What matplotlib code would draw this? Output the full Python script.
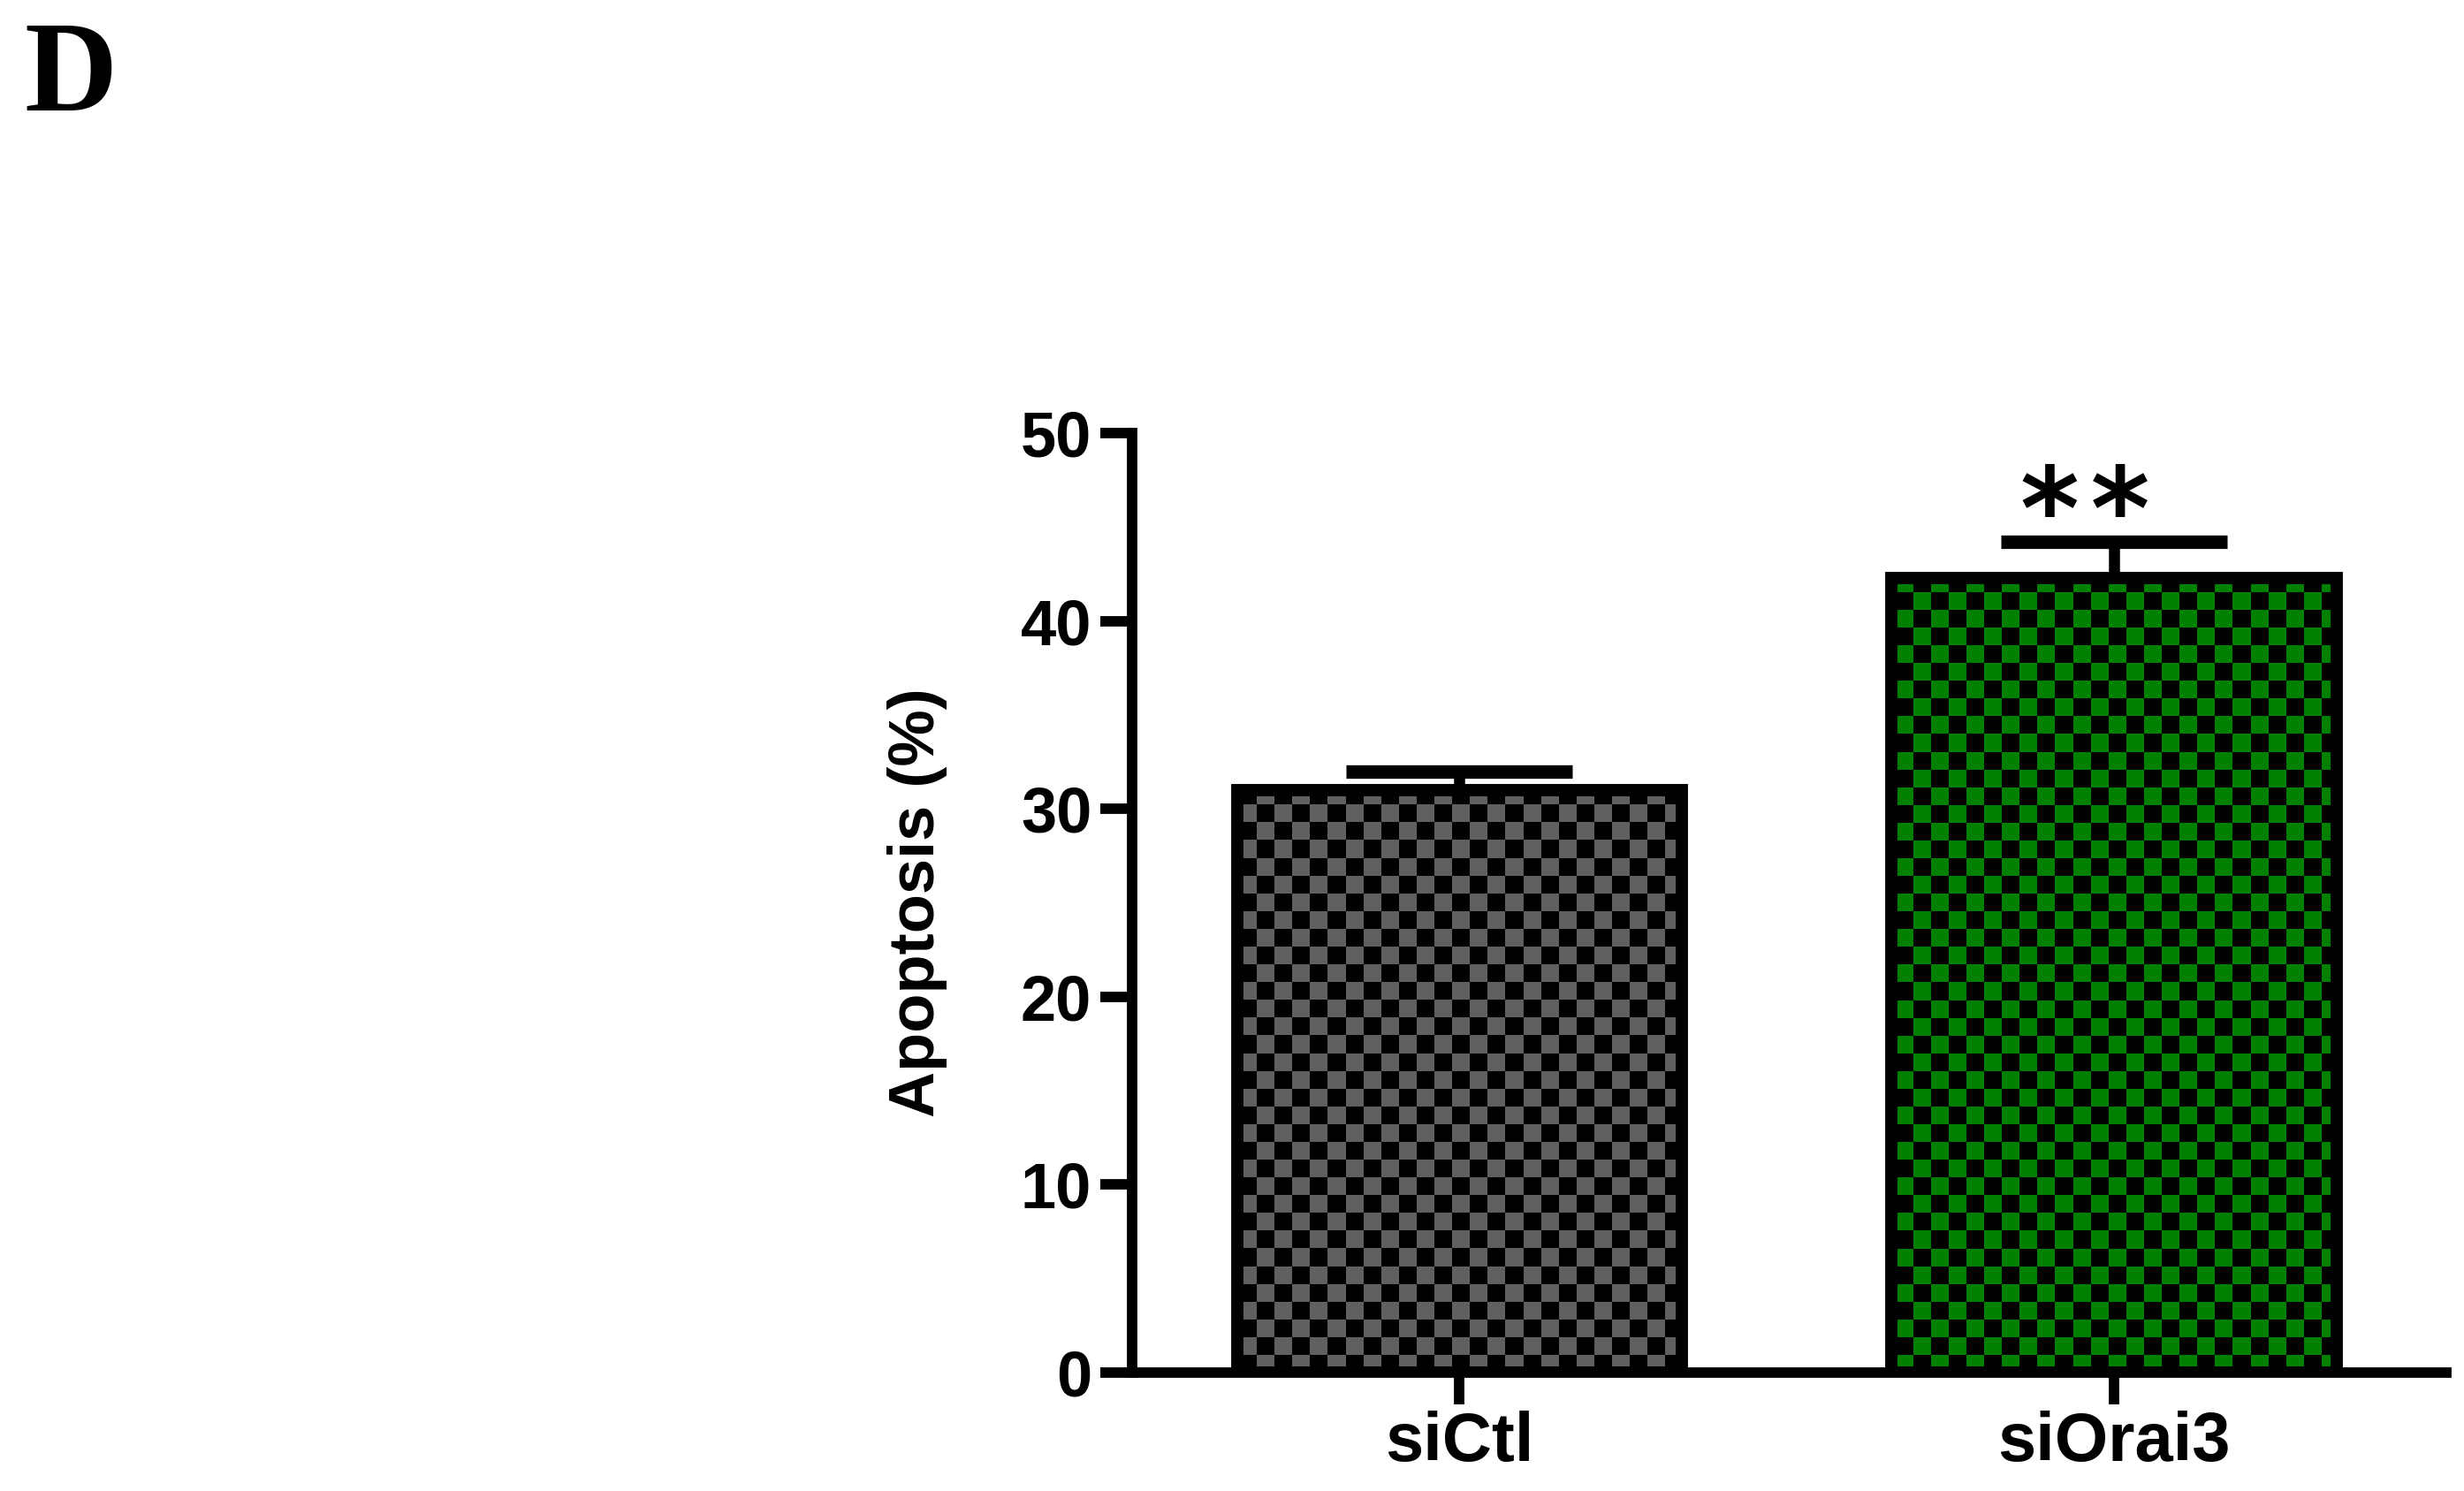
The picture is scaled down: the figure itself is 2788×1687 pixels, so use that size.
import numpy as np
import matplotlib.pyplot as plt
from matplotlib.colors import ListedColormap

groups = ['siCtl', 'siOrai3']
apoptosis = [31.0, 42.3]
sem = [1.0, 1.9]
bar_colors = ['#606060', '#008000']
yticks = [0, 10, 20, 30, 40, 50]
signif = ['', '*\u200a*']

plt.rcParams['font.family'] = ['Liberation Sans', 'DejaVu Sans']

fig = plt.figure(figsize=(27.88, 16.87), dpi=100)
ax = fig.add_axes([0.4595, 0.0794, 0.5333, 0.6301])
x = np.arange(len(groups))
xlim = (-0.5, 1.507)
ylim = (0, 50)

# bars: black base, checker texture clipped to each bar, thick outline on top
bars = ax.bar(x, apoptosis, width=0.68, color='black', linewidth=0, zorder=2)
bbox = ax.get_window_extent()
cell = 20  # px per checker square
nx = int(bbox.width / cell)
ny = int(bbox.height / cell)
checker = np.add.outer(np.arange(ny), np.arange(nx)) % 2
for b, c in zip(bars, bar_colors):
    im = ax.imshow(checker, cmap=ListedColormap(['black', c]), extent=(*xlim, *ylim),
                   aspect='auto', interpolation='nearest', origin='lower', zorder=3)
    im.set_clip_path(b)
ax.bar(x, apoptosis, width=0.68, fill=False, edgecolor='black', linewidth=10, zorder=4)

# error bars (lower half hidden behind bars)
ax.errorbar(x, apoptosis, yerr=sem, fmt='none', ecolor='black', elinewidth=9,
            capsize=92, capthick=11, zorder=1.5)

for xi, yi, e, s in zip(x, apoptosis, sem, signif):
    if s:
        ax.text(xi - 0.045, 45.5, s, ha='center', va='center', fontsize=92,
                family='DejaVu Sans', fontweight='bold', color='black')

ax.set_xlim(*xlim)
ax.set_ylim(*ylim)
ax.set_xticks(x)
ax.set_xticklabels(groups, fontsize=56, fontweight='bold')
ax.set_yticks(yticks)
ax.set_yticklabels([str(t) for t in yticks], fontsize=52, fontweight='bold')
ax.tick_params(axis='y', length=26, width=8.5, pad=7)
ax.tick_params(axis='x', length=26, width=8.5, pad=5)
for side in ['top', 'right']:
    ax.spines[side].set_visible(False)
for side in ['left', 'bottom']:
    ax.spines[side].set_linewidth(8.5)
    ax.spines[side].set_capstyle('projecting')

ax.set_ylabel('Apoptosis (%)', fontsize=52, fontweight='bold')
ax.yaxis.set_label_coords(-0.1405, 0.5)

fig.text(27 / 2788, 1 - 23 / 1687, 'D', family='Liberation Serif', fontweight='bold',
         fontsize=105, ha='left', va='top')

fig.savefig('out.png', dpi=100)
